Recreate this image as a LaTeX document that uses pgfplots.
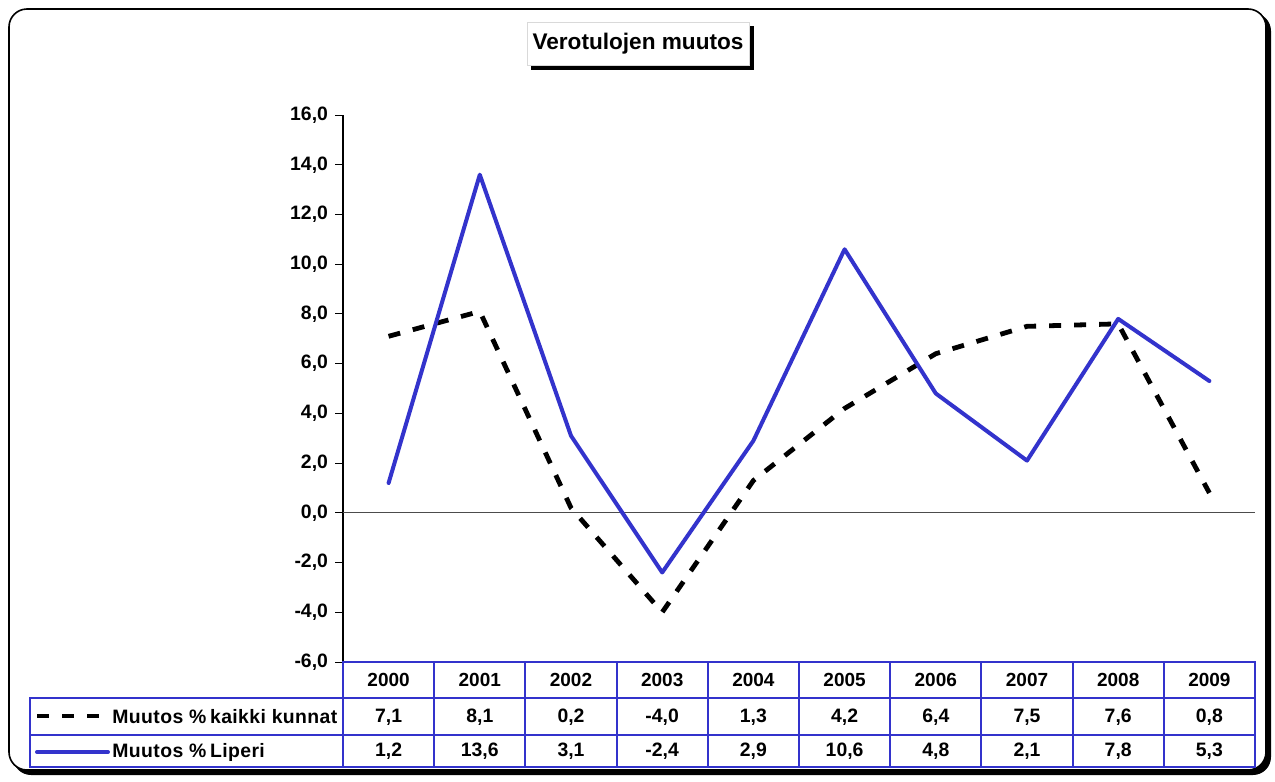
\documentclass[border=0pt]{standalone}
\usepackage{pgfplots}
\pgfplotsset{compat=1.18}
\usepackage{fontspec}
\setmainfont{Liberation Sans}
\definecolor{lblue}{RGB}{51,51,204}
\begin{document}
\begin{tikzpicture}
\useasboundingbox (0,0) rectangle (637.5pt,-391pt);
\begin{scope}[x=0.5pt,y=-0.5pt]
% outer frame with shadow
\fill[black, rounded corners=9pt] (13,13) rectangle (1271,775);
\draw[black, line width=0.8pt, fill=white, rounded corners=9pt] (9,9) rectangle (1266,770);
% title box with shadow
\fill[black] (531,26) rectangle (754,70);
\draw[black!15, fill=white, line width=0.4pt] (527,22) rectangle (749,65);
\node[font=\fontsize{11.3}{13}\selectfont\bfseries] at (638,44) {Verotulojen muutos};
\end{scope}
\begin{axis}[
  at={(171.5pt,-331pt)}, anchor=south west,
  scale only axis, width=456pt, height=273.5pt,
  xmin=-0.5, xmax=9.5, ymin=-6, ymax=16,
  ytick={-6,-4,...,16},
  axis y line*=left, axis x line=none,
  axis line style={-, black, line width=0.6pt},
  tick align=outside, major tick length=4pt,
  tick style={black, line width=0.5pt},
  yticklabel style={font=\fontsize{9.7}{11}\selectfont\bfseries},
  /pgf/number format/.cd, fixed, fixed zerofill, precision=1, use comma, assume math mode=true,
  clip=false,
]
\addplot[black!70, line width=0.6pt, forget plot] coordinates {(-0.5,0) (9.5,0)};
\addplot[black, line width=2.4pt, dash pattern=on 6pt off 6.5pt] coordinates {
(0,7.1) (1,8.1) (2,0.2) (3,-4.0) (4,1.3) (5,4.2) (6,6.4) (7,7.5) (8,7.6) (9,0.8)};
\addplot[lblue, line width=2pt, line cap=round, line join=round] coordinates {
(0,1.2) (1,13.6) (2,3.1) (3,-2.4) (4,2.9) (5,10.6) (6,4.8) (7,2.1) (8,7.8) (9,5.3)};
\end{axis}
\begin{scope}[x=0.5pt,y=-0.5pt]
% data table
\draw[lblue, line width=1pt] (343,662) rectangle (1255,767);
\draw[lblue, line width=1pt] (30,698) rectangle (343,767);
\draw[lblue, line width=1pt] (30,698) -- (1255,698);
\draw[lblue, line width=1pt] (30,735) -- (1255,735);
\foreach \i in {1,...,9} {
  \draw[lblue, line width=1pt] ({343+91.2*\i},662) -- ({343+91.2*\i},767);
}
\foreach \y [count=\i from 0] in {2000,2001,2002,2003,2004,2005,2006,2007,2008,2009} {
  \node[font=\fontsize{9.5}{11}\selectfont\bfseries] at ({343+91.2*(\i+0.5)},680) {\y};
}
\foreach \v [count=\i from 0] in {7{,}1,8{,}1,0{,}2,-4{,}0,1{,}3,4{,}2,6{,}4,7{,}5,7{,}6,0{,}8} {
  \node[font=\fontsize{9.7}{11}\selectfont\bfseries] at ({343+91.2*(\i+0.5)},717) {\v};
}
\foreach \v [count=\i from 0] in {1{,}2,13{,}6,3{,}1,-2{,}4,2{,}9,10{,}6,4{,}8,2{,}1,7{,}8,5{,}3} {
  \node[font=\fontsize{9.7}{11}\selectfont\bfseries] at ({343+91.2*(\i+0.5)},751) {\v};
}
% legend keys
\draw[black, line width=2.4pt, dash pattern=on 6pt off 6.5pt] (37,716) -- (108,716);
\draw[lblue, line width=2pt, line cap=round] (37,752) -- (108,752);
\node[anchor=west, inner sep=0pt, font=\fontsize{9.7}{11}\selectfont\bfseries\addfontfeature{LetterSpace=2}] at (112,717) {Muutos \%\hspace{-1pt} kaikki kunnat};
\node[anchor=west, inner sep=0pt, font=\fontsize{9.7}{11}\selectfont\bfseries\addfontfeature{LetterSpace=2}] at (112,752) {Muutos \%\hspace{-1pt} Liperi};
\end{scope}
\end{tikzpicture}
\end{document}
